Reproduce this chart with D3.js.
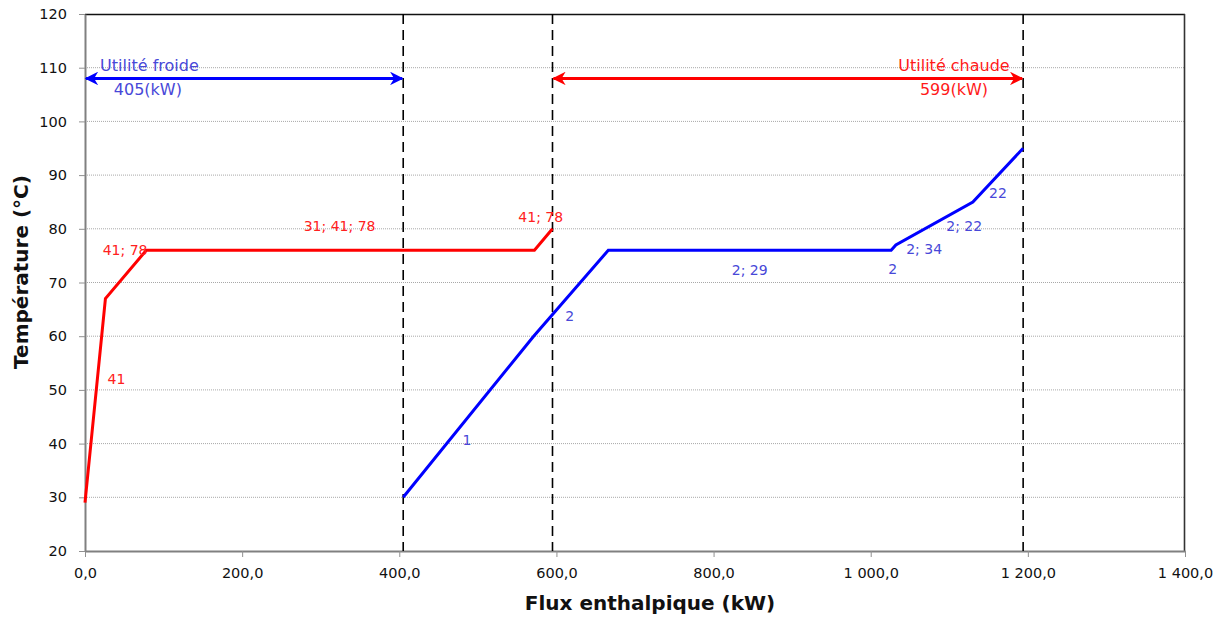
<!DOCTYPE html>
<html><head><meta charset="utf-8">
<script src="https://cdn.jsdelivr.net/npm/d3@7"></script>
<style>body{margin:0;background:#fff}svg{display:block}</style>
</head><body>
<svg id="c" width="1227" height="618"></svg>
<script>
// ---- data ----
const hotCurve = [[0,29],[26,67],[78,76],[572,76],[595,80]];
const coldCurve = [[405,30],[571,60],[666,76],[1026,76],[1032,77],[1130,85],[1194,95]];
const pinchLines = [405, 595, 1194];
const coldUtility = {from:0, to:405, label:"Utilité froide", value:"405(kW)", T:108};
const hotUtility = {from:595, to:1194, label:"Utilité chaude", value:"599(kW)", T:108};
const hotLabels = [
  {x:40, T:51.8, t:"41"},
  {x:51, T:75.9, t:"41; 78"},
  {x:324, T:80.3, t:"31; 41; 78"},
  {x:580, T:82.1, t:"41; 78"}
];
const coldLabels = [
  {x:486, T:40.4, t:"1"},
  {x:617, T:63.6, t:"2"},
  {x:846, T:72.1, t:"2; 29"},
  {x:1028, T:72.3, t:"2"},
  {x:1068, T:76.0, t:"2; 34"},
  {x:1119, T:80.4, t:"2; 22"},
  {x:1162, T:86.5, t:"22"}
];
const xTicks = [0,200,400,600,800,1000,1200,1400];
const yTicks = [20,30,40,50,60,70,80,90,100,110,120];

// ---- layout ----
const svg = d3.select("#c");
const L=85, R=1185, T=14, B=551;
const x = d3.scaleLinear().domain([0,1400]).range([L,R]);
const y = d3.scaleLinear().domain([20,120]).range([B,T]);
const font = "'DejaVu Sans', sans-serif";
const fmt = v => {
  const s = d3.format(",.1f")(v);
  return s.replace(".", "#").replace(/,/g, " ").replace("#", ",");
};

// grid
svg.append("g").selectAll("line").data(yTicks.filter(d=>d>20&&d<120)).join("line")
  .attr("x1",L).attr("x2",R).attr("y1",d=>y(d)).attr("y2",d=>y(d))
  .attr("stroke","#a8a8a8").attr("stroke-width",1).attr("stroke-dasharray","1,1");

// frame top/right
svg.append("line").attr("x1",L).attr("x2",R).attr("y1",T+0.5).attr("y2",T+0.5).attr("stroke","#111").attr("stroke-width",1.3);
svg.append("line").attr("x1",R-0.5).attr("x2",R-0.5).attr("y1",T).attr("y2",B).attr("stroke","#333").attr("stroke-width",1.6);

// axes
const xa = svg.append("g").attr("transform",`translate(0,${B})`)
  .call(d3.axisBottom(x).tickValues(xTicks).tickSize(6).tickSizeOuter(0).tickFormat(fmt));
xa.select(".domain").attr("stroke","#808080").attr("stroke-width",2);
xa.selectAll(".tick line").attr("stroke","#909090");
xa.selectAll("text").attr("font-family",font).attr("font-size",14.5).attr("fill","#111").attr("dy","1.25em");

const ya = svg.append("g").attr("transform",`translate(${L},0)`)
  .call(d3.axisLeft(y).tickValues(yTicks).tickSize(6).tickSizeOuter(0));
ya.select(".domain").attr("stroke","#808080").attr("stroke-width",2);
ya.selectAll(".tick line").attr("stroke","#909090");
ya.selectAll("text").attr("font-family",font).attr("font-size",14.5).attr("fill","#111").attr("x",-18);

// pinch / utility dashed lines
svg.append("g").selectAll("line").data(pinchLines).join("line")
  .attr("x1",d=>x(d)).attr("x2",d=>x(d)).attr("y1",T).attr("y2",B)
  .attr("stroke","#000").attr("stroke-width",1.6).attr("stroke-dasharray","10,6");

// curves
const line = d3.line().x(d=>x(d[0])).y(d=>y(d[1]));
svg.append("path").datum(hotCurve).attr("d",line).attr("fill","none").attr("stroke","#ff0000").attr("stroke-width",3).attr("stroke-linejoin","miter");
svg.append("path").datum(coldCurve).attr("d",line).attr("fill","none").attr("stroke","#0000ff").attr("stroke-width",3).attr("stroke-linejoin","miter");

// arrow markers
const defs = svg.append("defs");
function marker(id,color){
  defs.append("marker").attr("id",id).attr("viewBox","0 0 10 10").attr("refX",9).attr("refY",5)
    .attr("markerWidth",5).attr("markerHeight",4.5).attr("markerUnits","strokeWidth").attr("orient","auto-start-reverse")
    .append("path").attr("d","M0,0 L10,5 L0,10 L3,5 Z").attr("fill",color);
}
marker("ab","#0000ff"); marker("ar","#ff0000");

function utility(u,color,mk){
  svg.append("line").attr("x1",x(u.from)+1).attr("x2",x(u.to)-1).attr("y1",y(u.T)).attr("y2",y(u.T))
    .attr("stroke",color).attr("stroke-width",3)
    .attr("marker-start",`url(#${mk})`).attr("marker-end",`url(#${mk})`);
}
utility(coldUtility,"#0000ff","ab");
utility(hotUtility,"#ff0000","ar");
const uf = "'DejaVu Sans', sans-serif";
function utext(xv,T,txt,color){
  svg.append("text").attr("x",x(xv)).attr("y",y(T)).attr("text-anchor","middle").attr("dominant-baseline","middle")
    .attr("font-family",uf).attr("font-size",16).attr("fill",color).text(txt);
}
utext(82,110.2,coldUtility.label,"#4848d8");
utext(80,105.7,coldUtility.value,"#4848d8");
utext(1106,110.2,hotUtility.label,"#ff1a1a");
utext(1106,105.7,hotUtility.value,"#ff1a1a");

// segment labels
svg.append("g").selectAll("text").data(hotLabels).join("text")
  .attr("x",d=>x(d.x)).attr("y",d=>y(d.T)).attr("text-anchor","middle").attr("dominant-baseline","middle")
  .attr("font-family",font).attr("font-size",14).attr("fill","#ff2020").text(d=>d.t);
svg.append("g").selectAll("text").data(coldLabels).join("text")
  .attr("x",d=>x(d.x)).attr("y",d=>y(d.T)).attr("text-anchor","middle").attr("dominant-baseline","middle")
  .attr("font-family",font).attr("font-size",14).attr("fill","#4848d8").text(d=>d.t);

// axis titles
svg.append("text").attr("x",650).attr("y",610).attr("text-anchor","middle")
  .attr("font-family",font).attr("font-weight","bold").attr("font-size",20).attr("fill","#111").text("Flux enthalpique (kW)");
svg.append("text").attr("transform","translate(28,272) rotate(-90)").attr("text-anchor","middle")
  .attr("font-family",font).attr("font-weight","bold").attr("font-size",20).attr("fill","#111").text("Température (°C)");
</script>
</body></html>
